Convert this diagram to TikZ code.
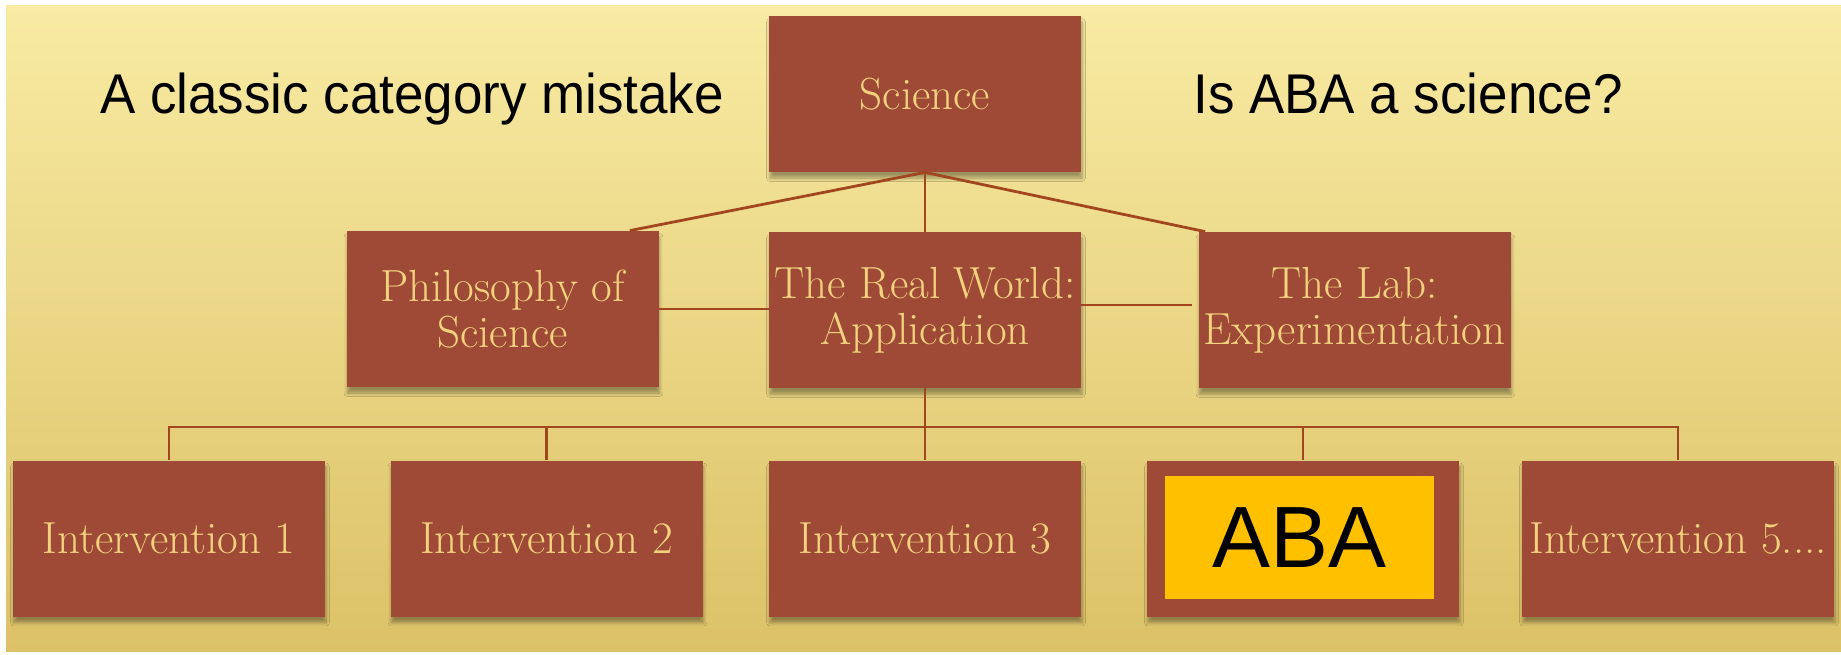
\documentclass[tikz,border=0pt]{standalone}
\usepackage{fontspec}
\newfontfamily\headfont[FakeStretch=0.945]{Liberation Sans}
\newfontfamily\abafont{Liberation Sans}
\usetikzlibrary{shadows.blur}
\definecolor{bgtop}{HTML}{F8EBA3}
\definecolor{bgbot}{HTML}{DCC167}
\definecolor{boxred}{HTML}{9F4A37}
\definecolor{boxtext}{HTML}{F3D27E}
\definecolor{linecol}{HTML}{A2461F}
\definecolor{abayellow}{HTML}{FFC000}
\tikzset{
  card/.style={fill=boxred, draw=none, minimum width=156pt, minimum height=78pt,
    inner sep=0pt, text=boxtext, font=\fontsize{22.5}{23}\selectfont, align=center,
    blur shadow={shadow xshift=0.5pt, shadow yshift=-3pt, shadow opacity=35, shadow blur steps=6}},
  link/.style={draw=linecol, line width=1.4pt},
  heading/.style={anchor=base west, inner sep=0pt, font=\headfont\fontsize{28}{32}\selectfont, text=black}
}
\begin{document}
\begin{tikzpicture}[x=0.5pt, y=-0.5pt]
\useasboundingbox (0,0) rectangle (1841,654);
\fill[white] (0,0) rectangle (1841,654);
\shade[top color=bgtop, bottom color=bgbot] (6,5) rectangle (1841,651);

\node[card] (sci) at (925,94) {Science};
\node[card] (phil) at (502.5,309) {Philosophy of\\Science};
\node[card] (rw) at (925,310) {The Real World:\\Application};
\node[card] (lab) at (1354.5,310) {The Lab:\\Experimentation};

\node[card] (i1) at (169,538.5) {Intervention 1};
\node[card] (i2) at (546.5,538.5) {Intervention 2};
\node[card] (i3) at (925,538.5) {Intervention 3};
\node[card] (aba) at (1303,538.5) {};
\node[card] (i5) at (1678,538.5) {Intervention 5....};

\node[fill=abayellow, minimum width=134.5pt, minimum height=61.5pt, inner sep=0pt,
      font=\abafont\fontsize{43.5}{48}\selectfont, text=black] (abatag)
      at (1299.5,537.5) {ABA};

\node[heading] (left) at (100,113) {A classic category mistake};
\node[heading] (right) at (1193,113) {Is ABA a science?};

\coordinate (bus) at (925,427);
\draw[link] (sci.south) -- ([xshift=-14.5pt]phil.north east);
\draw[link] (sci.south) -- ([xshift=3.5pt]lab.north west);
\draw[link] (sci.south) -- (rw.north);
\draw[link] (phil.east) -- (rw.west |- phil.east);
\draw[link] ([yshift=2.5pt]rw.east) -- ([xshift=-3pt,yshift=2.5pt]lab.west);
\draw[link] (rw.south) -- (i3.north);
\draw[link] (i1.north) -- (i1.north |- bus) -- (i5.north |- bus) -- (i5.north);
\draw[link] (i2.north) -- (i2.north |- bus);
\draw[link] (aba.north) -- (aba.north |- bus);
\end{tikzpicture}
\end{document}
